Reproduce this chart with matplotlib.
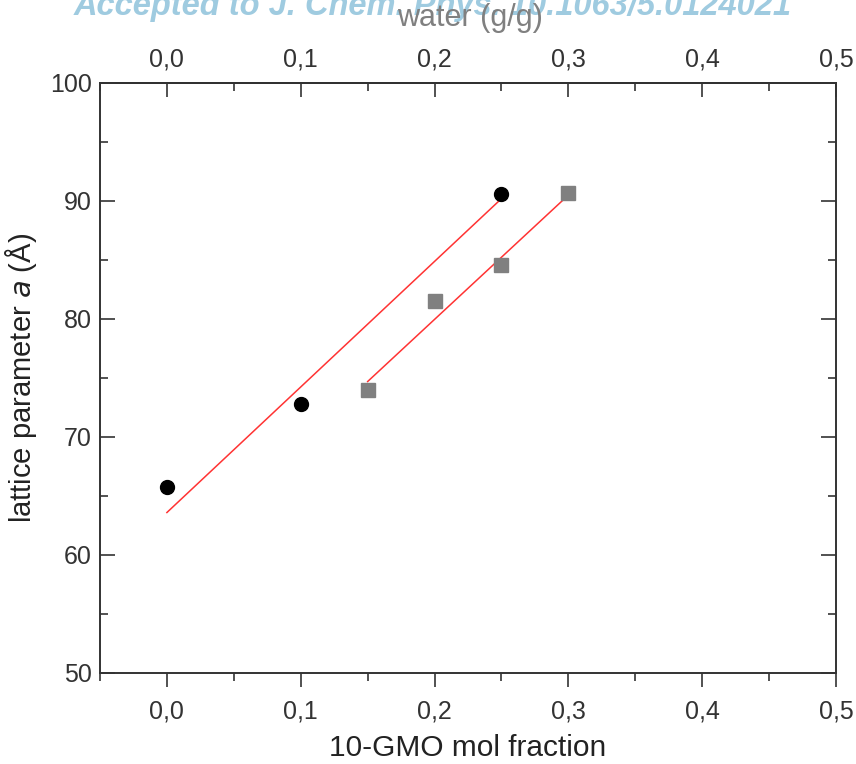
import matplotlib
matplotlib.use("Agg")
import matplotlib.pyplot as plt
from matplotlib.ticker import FuncFormatter, MultipleLocator

# data
gmo_x = [0.0, 0.1, 0.25]
gmo_a = [65.8, 72.8, 90.6]
water_x = [0.15, 0.2, 0.25, 0.3]
water_a = [74.0, 81.5, 84.6, 90.7]

# linear fit endpoints as drawn
gmo_fit_x = [0.0, 0.25]
gmo_fit_a = [63.6, 90.2]
water_fit_x = [0.15, 0.3]
water_fit_a = [74.7, 90.5]

x_ticks = [0.0, 0.1, 0.2, 0.3, 0.4, 0.5]
y_ticks = [50, 60, 70, 80, 90, 100]

plt.rcParams["font.family"] = ["Liberation Sans", "DejaVu Sans"]

fig = plt.figure(figsize=(8.56, 7.64), dpi=100)
ax = fig.add_axes([100 / 856, 1 - 673 / 764, 736 / 856, 590 / 764])

ax.plot(gmo_fit_x, gmo_fit_a, color="#ff3333", lw=1.1)
ax.plot(water_fit_x, water_fit_a, color="#ff3333", lw=1.1)
ax.plot(gmo_x, gmo_a, "o", color="black", ms=10, zorder=3)
ax.plot(water_x, water_a, "s", color="#808080", ms=9.5, zorder=3)

ax.set_xlim(-0.05, 0.5)
ax.set_ylim(50, 100)

comma = FuncFormatter(lambda v, p: f"{v:.1f}".replace(".", ","))
ax.set_xticks(x_ticks)
ax.xaxis.set_minor_locator(MultipleLocator(0.05))
ax.xaxis.set_major_formatter(comma)
ax.set_yticks(y_ticks)
ax.yaxis.set_minor_locator(MultipleLocator(5))

ax.tick_params(axis="x", which="both", direction="out", labelsize=18, colors="#333333", pad=9)
ax.tick_params(axis="x", which="major", length=10, width=1.2)
ax.tick_params(axis="x", which="minor", length=6, width=1.2)
ax.tick_params(axis="y", which="both", direction="in", labelsize=18, colors="#333333", right=True, pad=6)
ax.tick_params(axis="y", which="major", length=11, width=1.2)
ax.tick_params(axis="y", which="minor", length=6, width=1.2)
for s in ax.spines.values():
    s.set_linewidth(1.4)
    s.set_color("#333333")

ax.set_xlabel("10-GMO mol fraction", fontsize=21.5, labelpad=8, color="#222222")
ax.set_ylabel("lattice parameter $\\mathit{a}$ (Å)", fontsize=21, labelpad=8, color="#222222")

top = ax.secondary_xaxis("top")
top.set_xticks(x_ticks)
top.xaxis.set_minor_locator(MultipleLocator(0.05))
top.xaxis.set_major_formatter(comma)
top.tick_params(which="both", direction="in", labelsize=18, colors="#333333", pad=8)
top.tick_params(which="major", length=10, width=1.2)
top.tick_params(which="minor", length=6, width=1.2)
top.spines["top"].set_linewidth(1.4)

fig.text(0.505, 1 - 6 / 764, "Accepted to J. Chem. Phys. 10.1063/5.0124021",
         fontsize=23.5, color="#9fcbe0", style="italic", fontweight="bold",
         ha="center", va="center")
fig.text(470 / 856, 1 - 18 / 764, "water (g/g)", fontsize=22, color="#808080",
         ha="center", va="center")

fig.savefig("out.png", dpi=100)
